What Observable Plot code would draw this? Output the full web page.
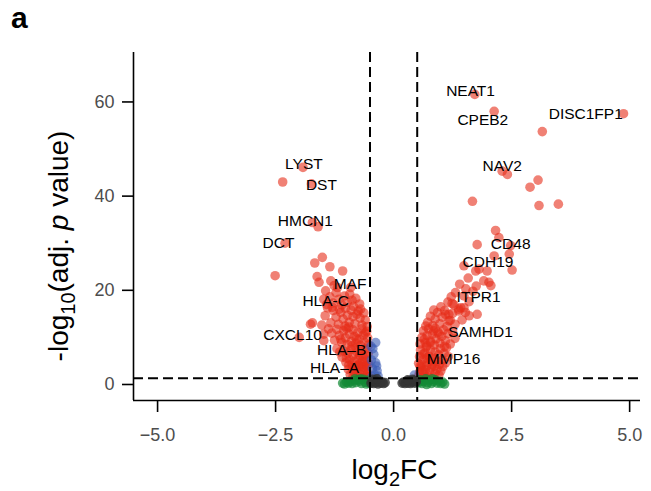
<!DOCTYPE html>
<html><head><meta charset="utf-8">
<script src="https://cdn.jsdelivr.net/npm/d3@7"></script>
<script src="https://cdn.jsdelivr.net/npm/@observablehq/plot@0.6"></script>
<style>
body{margin:0;background:#fff;font-family:"Liberation Sans",Arial,Helvetica,sans-serif;}
#wrap{position:relative;width:651px;height:491px;}
#panel{position:absolute;left:11px;top:-4px;font-weight:bold;font-size:30px;line-height:44px;}
svg{display:block;}
</style></head><body><div id="wrap"><div id="panel">a</div></div>
<script>
// ---- axis ticks and thresholds ----
const xTicks = [-5, -2.5, 0, 2.5, 5];
const yTicks = [0, 20, 40, 60];
const xDomain = [-5.51, 5.23];
const yDomain = [-3.4, 70.5];
const fcCut = [-0.5, 0.5];
const pCut = [1.3];

// ---- significant, |log2FC| > 0.5 (red) : [log2FC, -log10 adj p] ----
const downReg = [
  [-1.92,46.1],[-2.35,43.0],[-1.74,42.6],[-1.72,34.4],[-1.60,33.5],[-2.30,30.0],
  [-1.51,27.0],[-1.67,25.8],[-1.35,25.0],[-1.08,24.1],[-2.51,23.1],[-1.62,22.9],
  [-1.58,21.7],[-1.33,22.0],[-1.19,20.6],[-0.91,20.6],[-1.26,21.0],[-1.44,19.9],
  [-2.00,10.0],[-1.48,9.3],[-1.48,10.7],[-1.76,12.8],[-1.72,13.1],
  [-0.53,1.6],[-0.55,2.4],[-0.58,3.3],[-0.61,1.9],[-0.64,2.8],[-0.67,3.7],[-0.70,1.5],
  [-0.73,2.3],[-0.76,3.1],[-0.80,1.8],[-0.84,2.7],[-0.88,3.5],[-0.92,2.1],[-0.57,3.9],
  [-0.63,1.4],[-0.71,3.9],[-0.79,3.8],[-0.86,1.6],[-0.96,3.2],
  [-0.53,4.3],[-0.56,5.2],[-0.54,6.6],[-0.59,7.5],[-0.62,4.8],[-0.65,6.0],[-0.68,7.2],
  [-0.71,4.5],[-0.74,5.6],[-0.77,6.8],[-0.80,7.8],[-0.83,4.9],[-0.86,6.2],[-0.90,7.4],
  [-0.93,5.3],[-0.97,6.6],[-1.01,4.7],[-1.05,7.1],[-1.09,5.8],[-1.14,6.9],[-1.20,7.6],
  [-0.58,4.1],[-0.66,5.0],[-0.75,4.1],[-0.88,4.3],[-0.60,6.3],[-0.72,6.3],[-0.95,4.1],[-1.00,5.6],
  [-0.53,8.4],[-0.55,9.9],[-0.57,11.3],[-0.61,8.9],[-0.64,10.5],[-0.67,11.8],[-0.70,8.3],
  [-0.73,9.6],[-0.76,11.0],[-0.80,8.8],[-0.83,10.2],[-0.86,11.6],[-0.90,9.1],[-0.94,10.7],
  [-0.98,8.5],[-1.02,9.9],[-1.06,11.4],[-1.10,8.9],[-1.15,10.4],[-1.20,11.7],[-1.25,9.4],
  [-1.31,10.9],[-1.38,11.8],[-0.60,10.9],[-0.78,9.7],[-0.88,8.2],[-1.00,11.9],[-1.12,9.6],
  [-0.56,12.3],[-0.60,13.7],[-0.63,15.2],[-0.67,12.6],[-0.71,14.1],[-0.75,15.6],[-0.78,14.9],
  [-0.82,12.9],[-0.86,14.4],[-0.90,15.8],[-0.94,13.2],[-0.98,14.7],[-1.03,12.4],[-1.07,13.9],
  [-1.12,15.3],[-1.17,12.8],[-1.22,14.3],[-1.28,15.7],[-1.33,13.1],[-1.40,16.3],[-1.45,14.6],
  [-1.52,12.6],[-0.70,16.0],[-0.95,12.2],[-1.15,16.0],
  [-0.72,17.1],[-0.80,18.3],[-0.85,16.6],[-0.93,19.2],[-0.98,17.5],[-1.04,18.8],[-1.10,16.9],
  [-1.16,18.1],[-1.22,19.5],[-1.28,17.3],[-1.35,18.6],[-1.42,17.0],[-1.48,18.1],[-1.02,16.2],
  [-1.30,16.4],[-0.88,17.9]
];
const upReg = [
  [1.72,61.6],[2.13,58.0],[4.87,57.5],[3.15,53.7],[2.41,44.6],[2.30,45.3],[3.06,43.4],
  [2.89,41.9],[1.67,38.9],[3.08,38.0],[3.49,38.3],[2.16,32.7],[2.23,31.2],[1.77,29.7],
  [2.48,29.5],[2.45,27.7],[2.13,27.3],[1.49,25.2],[1.74,24.1],[1.98,24.1],[2.51,24.3],
  [1.81,24.5],[2.02,21.7],[1.91,22.0],[2.06,21.0],[1.31,19.5],[1.49,18.8],[1.53,20.3],
  [1.42,16.3],[1.49,16.3],[1.38,16.0],[1.17,14.9],[1.10,14.9],[1.38,15.6],[1.60,14.6],
  [1.77,14.9],[0.68,12.4],[0.85,11.4],[0.96,10.7],[0.78,8.9],[1.17,13.5],
  [0.52,1.7],[0.55,2.6],[0.58,3.5],[0.61,1.5],[0.64,2.2],[0.67,3.1],[0.70,3.9],[0.73,1.8],
  [0.76,2.7],[0.80,3.6],[0.84,1.6],[0.88,2.4],[0.92,3.3],[0.96,2.0],[1.00,2.9],[1.04,3.8],
  [0.56,3.9],[0.69,1.4],[0.86,3.9],[0.62,2.9],
  [0.53,4.5],[0.55,5.9],[0.57,7.3],[0.60,4.2],[0.63,5.4],[0.66,6.7],[0.69,7.9],[0.72,4.7],
  [0.75,6.0],[0.78,7.4],[0.82,4.3],[0.85,5.6],[0.88,6.9],[0.92,4.9],[0.95,6.3],[0.99,7.6],
  [1.03,5.2],[1.07,6.6],[1.12,7.8],[1.16,5.9],[0.62,6.4],[0.80,5.0],[0.97,4.3],[1.10,4.6],[0.71,5.7],
  [0.56,8.6],[0.60,10.0],[0.63,11.4],[0.67,8.9],[0.71,10.4],[0.74,11.8],[0.78,9.2],[0.82,10.7],
  [0.86,8.4],[0.90,9.7],[0.94,11.1],[0.98,8.8],[1.02,10.2],[1.06,11.6],[1.10,9.3],[1.15,10.8],
  [1.20,8.6],[1.25,11.2],[1.30,9.8],[0.70,8.2],[0.88,11.9],[1.08,8.1],[0.65,9.6],
  [0.72,13.2],[0.78,14.5],[0.83,12.5],[0.88,13.9],[0.93,15.3],[0.98,12.9],[1.03,14.3],
  [1.08,15.7],[1.13,12.3],[1.20,13.6],[1.25,15.1],[1.30,12.8],[1.45,13.7],[1.52,15.3],
  [0.85,15.8],[1.00,16.5],[1.24,17.2],
  [1.15,17.5],[1.22,18.6],[1.28,16.9],[1.60,17.6],[1.68,19.8],[1.40,21.3],[1.58,22.6],[1.75,20.9]
];
// ---- significant, |log2FC| < 0.5 (blue) ----
const sigOnly = [
  [-0.38,8.9],[-0.42,6.4],[-0.38,4.6],[-0.35,2.9],[-0.45,3.4],[-0.47,5.2],[-0.44,7.6],
  [-0.40,2.0],[-0.46,1.6],[-0.33,1.8],[-0.48,8.1],[-0.36,3.9],[0.44,2.0]
];
// ---- not significant, |log2FC| > 0.5 (green) ----
const fcOnly = [
  [-0.52,0.3],[-0.56,0.9],[-0.60,0.5],[-0.64,1.1],[-0.68,0.2],[-0.72,0.7],[-0.76,1.0],
  [-0.80,0.4],[-0.84,0.8],[-0.88,0.2],[-0.92,0.6],[-0.96,0.3],[-1.00,0.5],[-1.04,0.1],
  [-1.08,0.3],[-0.58,0.1],[-0.70,1.2],[-0.82,1.2],
  [0.52,0.4],[0.56,1.0],[0.60,0.2],[0.64,0.7],[0.68,1.2],[0.72,0.4],[0.76,0.9],[0.80,0.2],
  [0.84,0.6],[0.88,1.0],[0.92,0.3],[0.96,0.7],[1.00,0.2],[1.04,0.5],[1.08,0.1],[0.58,0.6],
  [0.70,0.0],[0.82,1.2]
];
// ---- not significant (dark grey) ----
const notSig = [
  [-0.48,0.3],[-0.45,0.6],[-0.42,0.2],[-0.39,0.9],[-0.36,0.4],[-0.33,0.1],[-0.30,0.7],
  [-0.27,0.3],[-0.24,0.5],[-0.21,0.2],[-0.18,0.4],[-0.44,1.1],[-0.35,1.2],
  [0.18,0.3],[0.21,0.5],[0.24,0.2],[0.27,0.6],[0.30,0.3],[0.33,0.8],[0.36,0.2],[0.39,0.5],
  [0.42,0.9],[0.45,0.3],[0.48,0.6],[0.40,1.1],[0.30,1.0]
];
// ---- gene labels (label anchor positions, data units) ----
const labelGenes = ["NEAT1","CPEB2","DISC1FP1","NAV2","CD48","CDH19","ITPR1","SAMHD1","MMP16",
  "LYST","DST","HMCN1","DCT","MAF","HLA-C","CXCL10","HLA\u2013B","HLA\u2013A"];
const labelX = [1.63,1.89,4.07,2.30,2.48,2.00,1.80,1.84,1.27,-1.90,-1.53,-1.87,-2.44,-0.92,-1.44,-2.14,-1.10,-1.25];
const labelY = [62.4,56.1,57.4,46.4,29.9,26.0,18.5,11.2,5.5,46.9,42.4,34.8,30.0,21.4,17.8,10.4,7.3,3.6];
const labels = labelGenes.map((g,i)=>({g, x:labelX[i], y:labelY[i]}));

const R = 4.8;
const font = "Liberation Sans, Arial, Helvetica, sans-serif";
const dash = {stroke:"black", strokeWidth:2, strokeDasharray:"10,5"};
const red = "#e62d19";

const plot = Plot.plot({
  width: 651, height: 491,
  marginLeft: 133, marginRight: 11, marginTop: 52, marginBottom: 91,
  style: {fontFamily: font, background: "white"},
  x: {domain: xDomain},
  y: {domain: yDomain},
  marks: [
    Plot.dot(downReg, {x: d=>d[0], y: d=>d[1], r: R, fill: red, fillOpacity: 0.6}),
    Plot.dot(upReg, {x: d=>d[0], y: d=>d[1], r: R, fill: red, fillOpacity: 0.6}),
    Plot.dot(sigOnly, {x: d=>d[0], y: d=>d[1], r: R, fill: "#3b5bb5", fillOpacity: 0.6}),
    Plot.dot(fcOnly, {x: d=>d[0], y: d=>d[1], r: R, fill: "#138a36", fillOpacity: 0.7}),
    Plot.dot(notSig, {x: d=>d[0], y: d=>d[1], r: R, fill: "#333333", fillOpacity: 0.8}),
    Plot.ruleX(fcCut, dash),
    Plot.ruleY(pCut, dash),
    Plot.ruleX([xDomain[0]], {stroke: "black", strokeWidth: 1.6}),
    Plot.ruleY([yDomain[0]], {stroke: "black", strokeWidth: 1.6}),
    Plot.axisX({ticks: xTicks, tickFormat: d3.format(".1f"), tickSize: 12, tickPadding: 16,
      fontSize: 18, label: null, strokeWidth: 1.6}),
    Plot.axisY({ticks: yTicks, tickSize: 11, tickPadding: 8, fontSize: 18, label: null, strokeWidth: 1.6}),
    Plot.text(labels, {x: "x", y: "y", text: "g", fontSize: 15.5, fill: "black"})
  ]
});
document.getElementById("wrap").appendChild(plot);

const svg = d3.select(plot);
svg.selectAll('[aria-label="x-axis tick label"] text, [aria-label="y-axis tick label"] text').attr("fill", "#4d4d4d");
const xr = plot.scale("x").range, yr = plot.scale("y").range;
const xc = (xr[0] + xr[1]) / 2;
// x title
const xt = svg.append("text").attr("x", xc + 8).attr("y", 479).attr("text-anchor", "middle")
  .attr("font-size", 28).attr("font-family", font).attr("fill", "black");
xt.append("tspan").text("log");
xt.append("tspan").attr("dy", 7).attr("font-size", 20).text("2");
xt.append("tspan").attr("dy", -7).text("FC");
// y title
const yc = (yr[0] + yr[1]) / 2 + 20;
const yt = svg.append("text").attr("transform", `translate(68,${yc}) rotate(-90)`).attr("text-anchor", "middle")
  .attr("font-size", 28).attr("font-family", font).attr("fill", "black");
yt.append("tspan").text("-log");
yt.append("tspan").attr("dy", 7).attr("font-size", 20).text("10");
yt.append("tspan").attr("dy", -7).text("(adj. ");
yt.append("tspan").attr("font-style", "italic").text("p");
yt.append("tspan").text(" value)");
</script></body></html>
